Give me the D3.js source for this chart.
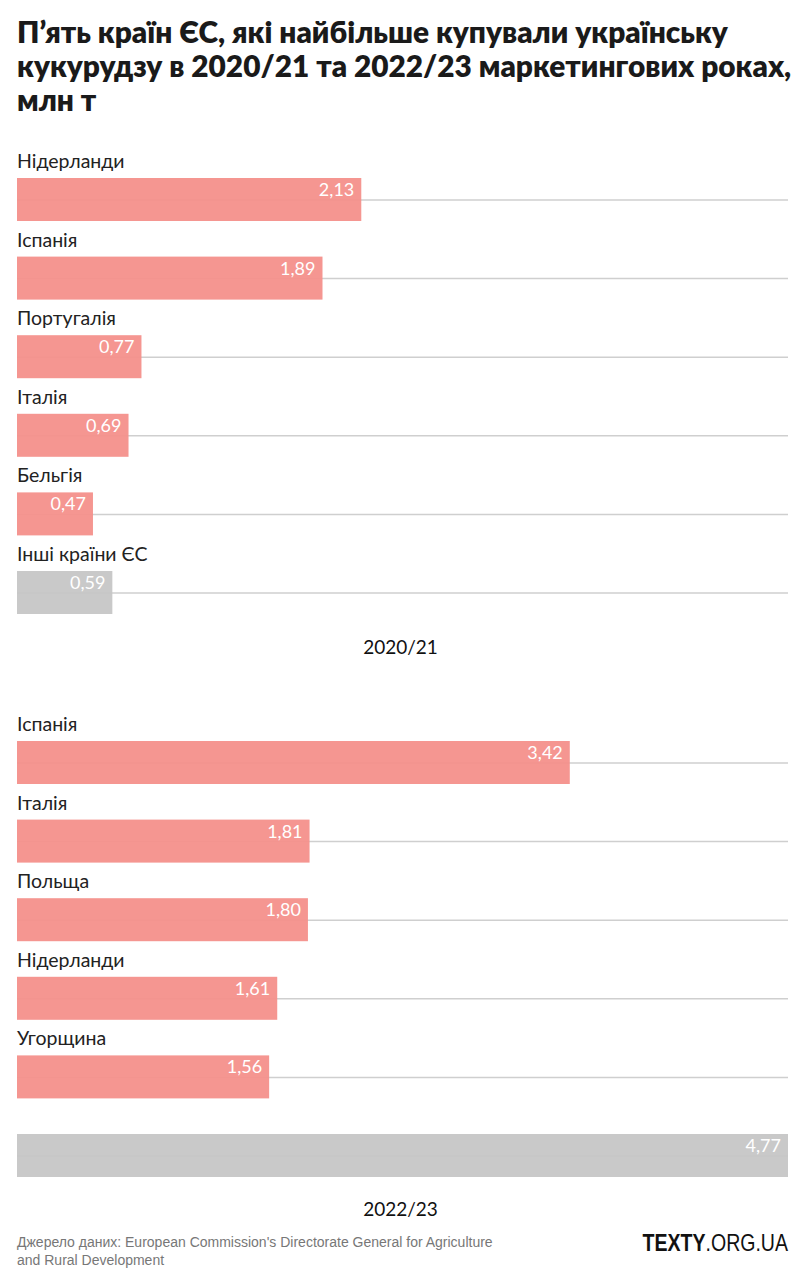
<!DOCTYPE html>
<html>
<head>
<meta charset="utf-8">
<script src="https://cdn.jsdelivr.net/npm/d3@7"></script>
<style>
  body { margin: 0; background: #fff; }
  svg text { font-family: Lato, "Open Sans", sans-serif; }
</style>
</head>
<body>
<div id="chart"></div>
<script>
// дані: млн т
var countries2021 = ["Нідерланди", "Іспанія", "Португалія", "Італія", "Бельгія", "Інші країни ЄС"];
var values2021 = [2.13, 1.89, 0.77, 0.69, 0.47, 0.59];
var others2021 = [false, false, false, false, false, true];

var countries2223 = ["Іспанія", "Італія", "Польща", "Нідерланди", "Угорщина", ""];
var values2223 = [3.42, 1.81, 1.80, 1.61, 1.56, 4.77];
var others2223 = [false, false, false, false, false, true];

var periods = ["2020/21", "2022/23"];
var titleLines = [
  "П’ять країн ЄС, які найбільше купували українську",
  "кукурудзу в 2020/21 та 2022/23 маркетингових роках,",
  "млн т"
];
var sourceLines = [
  "Джерело даних: European Commission's Directorate General for Agriculture",
  "and Rural Development"
];

var width = 801, height = 1274;
var left = 17, right = 788;

var svg = d3.select("#chart")
  .append("svg")
    .attr("width", width)
    .attr("height", height);

svg.append("g")
  .selectAll("text")
  .data(titleLines)
  .enter()
  .append("text")
    .attr("x", left)
    .attr("y", function(d, i) { return 43 + i * 34; })
    .attr("font-size", 29.8)
    .attr("font-weight", 800)
    .attr("fill", "#1a1a1a")
    .text(function(d) { return d; });

var x = d3.scaleLinear()
  .domain([0, d3.max(values2223.concat(values2021))])
  .range([left, right]);

var fmt = function(v) { return d3.format(".2f")(v).replace(".", ","); };

function drawPanel(names, values, others, top, period, periodY) {
  var rows = names.map(function(n, i) { return {name: n, value: values[i], other: others[i], i: i}; });
  var y = d3.scaleBand()
    .domain(d3.range(rows.length))
    .range([top, top + rows.length * 78.6]);

  var g = svg.append("g");

  // сітка
  g.selectAll("line.grid")
    .data(rows)
    .enter()
    .append("line")
      .attr("class", "grid")
      .attr("x1", left)
      .attr("x2", right)
      .attr("y1", function(d) { return y(d.i) + 54; })
      .attr("y2", function(d) { return y(d.i) + 54; })
      .attr("stroke", "#cfcfcf")
      .attr("stroke-width", 1.5);

  g.selectAll("rect")
    .data(rows)
    .enter()
    .append("rect")
      .attr("x", x(0))
      .attr("y", function(d) { return y(d.i) + 32; })
      .attr("width", function(d) { return x(d.value) - x(0); })
      .attr("height", 43)
      .attr("fill", function(d) { return d.other ? "#c6c6c6" : "#f4908b"; })
      .attr("fill-opacity", 0.95);

  g.selectAll("text.name")
    .data(rows)
    .enter()
    .append("text")
      .attr("class", "name")
      .attr("x", left)
      .attr("y", function(d) { return y(d.i) + 22; })
      .attr("font-size", 19.5)
      .attr("fill", "#222")
      .text(function(d) { return d.name; });

  g.selectAll("text.val")
    .data(rows)
    .enter()
    .append("text")
      .attr("class", "val")
      .attr("x", function(d) { return x(d.value) - 7; })
      .attr("y", function(d) { return y(d.i) + 50; })
      .attr("text-anchor", "end")
      .attr("font-size", 18)
      .attr("fill", "#fff")
      .text(function(d) { return fmt(d.value); });

  g.append("text")
    .attr("x", width / 2)
    .attr("y", periodY)
    .attr("text-anchor", "middle")
    .attr("font-size", 19)
    .attr("fill", "#111")
    .text(period);
}

drawPanel(countries2021, values2021, others2021, 146, periods[0], 654);
drawPanel(countries2223, values2223, others2223, 709, periods[1], 1216);

// джерело
svg.append("g")
  .selectAll("text")
  .data(sourceLines)
  .enter()
  .append("text")
    .attr("x", left)
    .attr("y", function(d, i) { return 1247 + i * 18; })
    .attr("font-size", 14)
    .attr("fill", "#777")
    .style("font-family", "'Liberation Sans Narrow', sans-serif")
    .text(function(d) { return d; });

// логотип, трохи стиснутий по горизонталі
var logo = svg.append("g")
  .attr("transform", "translate(" + right + ",1251) scale(0.85,1)")
  .append("text")
  .attr("x", 0)
  .attr("y", 0)
  .attr("text-anchor", "end")
  .attr("font-size", 23)
  .attr("fill", "#111")
  .style("font-family", "'Liberation Sans Narrow', sans-serif");
logo.append("tspan").attr("font-weight", 700).text("TEXTY");
logo.append("tspan").text(".ORG.UA");
</script>
</body>
</html>
